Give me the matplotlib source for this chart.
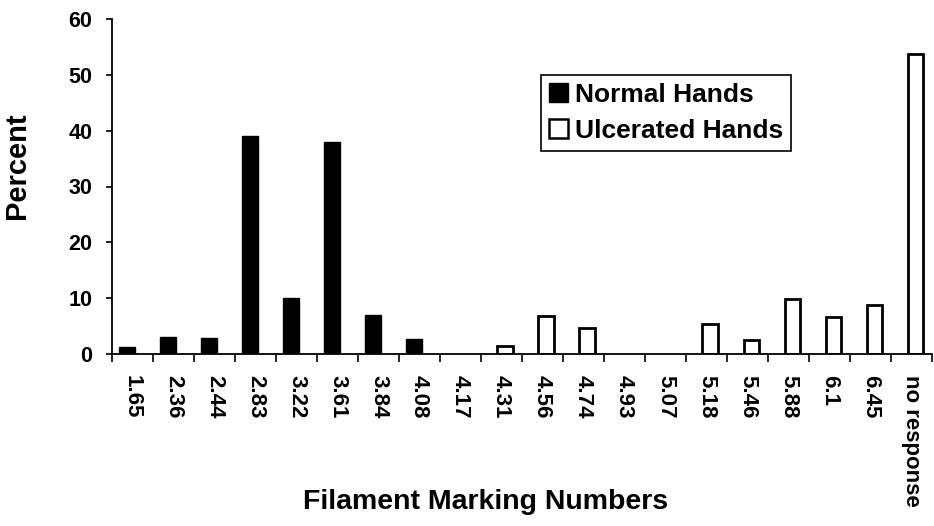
import numpy as np
import matplotlib
matplotlib.use("Agg")
from matplotlib import pyplot as plt
from matplotlib.patches import Patch

plt.rcParams['font.family'] = ['Liberation Sans', 'DejaVu Sans']

# Data
filaments = ['1.65', '2.36', '2.44', '2.83', '3.22', '3.61', '3.84', '4.08',
             '4.17', '4.31', '4.56', '4.74', '4.93', '5.07', '5.18', '5.46',
             '5.88', '6.1', '6.45', 'no response']
normal = [1.2, 3, 2.9, 39, 10, 38, 7, 2.7,
          0, 0, 0, 0, 0, 0, 0, 0, 0, 0, 0, 0]
ulcerated = [0, 0, 0, 0, 0, 0, 0, 0,
             0, 1.4, 6.8, 4.6, 0, 0, 5.3, 2.5, 9.8, 6.7, 8.8, 53.8]

x = np.arange(len(filaments))
w = 0.37

fig = plt.figure(figsize=(9.34, 5.26), dpi=100)
ax = fig.add_axes([112 / 934, 1 - 354 / 526, 0.998 - 112 / 934, (354 - 19) / 526])

nm = np.array(normal)
um = np.array(ulcerated)
ax.bar(x[nm > 0] - 0.135, nm[nm > 0], width=w, color='black', edgecolor='black', lw=1)
ax.bar(x[um > 0] + 0.085, um[um > 0], width=w, color='white', edgecolor='black', lw=2.0)

ax.set_xlim(-0.5, len(filaments) - 0.5)
ax.set_ylim(0, 60)
ax.set_yticks(range(0, 61, 10))
ax.set_xticks(x)
ax.set_xticklabels(filaments, rotation=270, fontsize=16, fontweight='bold',
                   va='top', ha='center')
ax.set_xticks(np.arange(-0.5, len(filaments), 1), minor=True)
ax.tick_params(axis='x', which='major', length=0, pad=15)
ax.tick_params(axis='x', which='minor', length=6, width=1.2, direction='out')
ax.tick_params(axis='y', length=4, width=1.2, labelsize=15.5, pad=10)
for t in ax.get_yticklabels():
    t.set_fontweight('bold')

for s in ['top', 'right']:
    ax.spines[s].set_visible(False)
for s in ['left', 'bottom']:
    ax.spines[s].set_linewidth(1.3)

fig.text(17.5 / 934, 1 - 166 / 526, 'Percent', rotation=90, fontsize=21,
         fontweight='bold', ha='center', va='center')
fig.text(486 / 934, 1 - 502 / 526, 'Filament Marking Numbers', fontsize=20.5,
         fontweight='bold', ha='center', va='center')

handles = [Patch(facecolor='black', edgecolor='black', label='Normal Hands'),
           Patch(facecolor='white', edgecolor='black', lw=1.8, label='Ulcerated Hands')]
leg = ax.legend(handles=handles, loc='upper left', bbox_to_anchor=(0.523, 0.833),
                fancybox=False, framealpha=1, edgecolor='black',
                prop={'weight': 'bold', 'size': 19}, handlelength=0.72, handleheight=0.72,
                handletextpad=0.27, borderpad=0.3, labelspacing=0.45, borderaxespad=0)
leg.get_frame().set_linewidth(1.2)

fig.savefig('out.png', dpi=100)
